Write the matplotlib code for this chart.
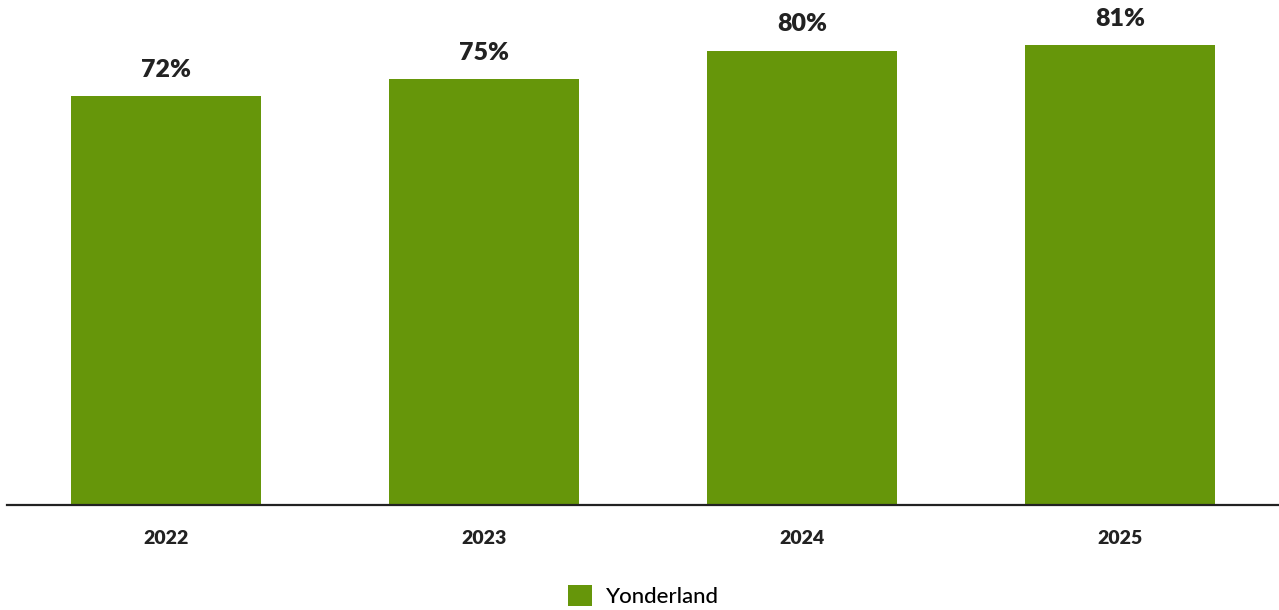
import matplotlib
matplotlib.use("Agg")
import matplotlib.pyplot as plt
from matplotlib.patches import Patch

# datos
years = ["2022", "2023", "2024", "2025"]
values = [72, 75, 80, 81]
series_name = "Yonderland"

green = "#66960a"
dark = "#222222"

plt.rcParams["font.family"] = ["Lato", "DejaVu Sans"]

fig = plt.figure(figsize=(12.79, 6.10), dpi=100)
ax = fig.add_axes([7 / 1279, 105 / 610, 1 - 7 / 1279, 505 / 610])

ax.bar(years, values, width=0.6, color=green)
ax.set_xlim(-0.5, len(years) - 0.5)
ax.set_ylim(0, 505 / 5.68)

# etiquetas de valor encima de cada barra
for i, v in enumerate(values):
    ax.annotate(f"{v}%", (i, v), xytext=(0, 11), textcoords="offset points",
                ha="center", va="bottom", fontsize=18, fontweight="heavy", color=dark)

for s in ["top", "right", "left"]:
    ax.spines[s].set_visible(False)
ax.spines["bottom"].set_color(dark)
ax.spines["bottom"].set_linewidth(1.6)
ax.set_yticks([])
ax.tick_params(axis="x", length=0, pad=18, labelsize=14, labelcolor=dark)
for lbl in ax.get_xticklabels():
    lbl.set_fontweight("heavy")

handles = [Patch(facecolor=green, label=series_name)]
fig.legend(handles=handles, loc="center", bbox_to_anchor=(0.503, 1 - 596 / 610),
           frameon=False, handlelength=1.1, handleheight=1.1,
           handletextpad=0.6, prop={"size": 16, "weight": "medium"})

fig.savefig("out.png", dpi=100)
